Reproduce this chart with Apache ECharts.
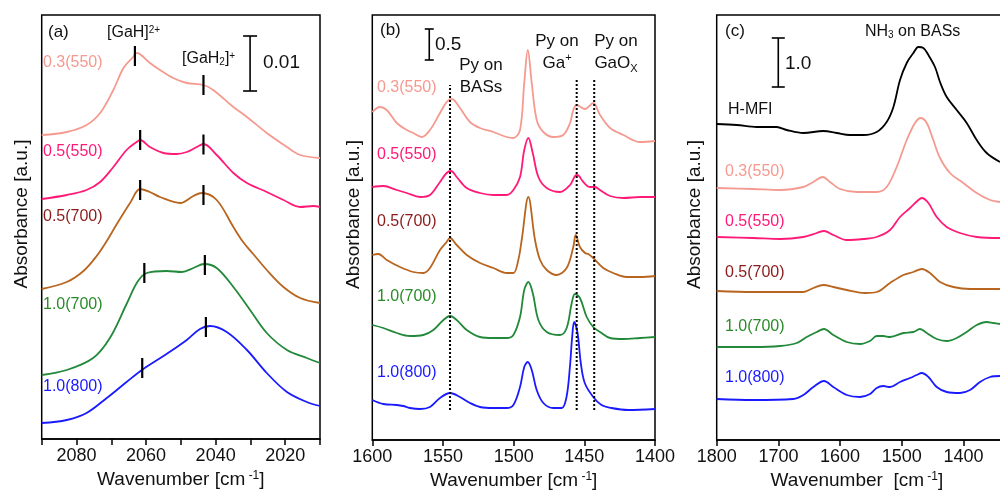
<!DOCTYPE html>
<html>
<head>
<meta charset="utf-8">
<script src="https://cdn.jsdelivr.net/npm/echarts@6/dist/echarts.min.js"></script>
<style>
  html, body { margin: 0; padding: 0; background: #fff; }
  #chart { width: 1000px; height: 493px; }
</style>
</head>
<body>
<div id="chart"></div>
<script>
// sample names and colours (same order in every panel)
const samples = ['0.3(550)', '0.5(550)', '0.5(700)', '1.0(700)', '1.0(800)'];
const lineColors = ['#f59a90', '#ff1a78', '#b8651f', '#23893a', '#1a1aff'];
const labelColors = ['#f59a90', '#ff1a78', '#8b1a1a', '#2a8a2a', '#1a1aff'];

// (a) Ga-H region, stacked absorbance (a.u.)
const a03_550 = [[2090,304],[2082.8,307],[2077.1,314],[2073.2,326],[2069.4,349],[2066.5,371],[2063.7,382],[2062.7,386],[2058.9,376],[2056,369],[2052.2,361],[2048.3,356],[2043.5,354],[2040.7,349],[2034.9,332],[2031,322],[2025.3,306],[2019.5,292],[2015.7,284],[2010,281]];
const a05_550 = [[2090,240],[2082.8,244],[2077.1,249],[2073.2,257],[2069.4,272],[2065.6,289],[2062.7,297],[2061.7,299],[2058.9,292],[2055,286],[2051.2,285],[2048.3,287],[2045.4,292],[2043.5,295],[2039.7,284],[2034.9,266],[2031,256],[2025.3,247],[2020.5,239],[2015.7,232],[2011.9,233],[2010,232]];
const a05_700 = [[2090,150],[2082.8,157],[2078,168],[2074.2,183],[2071.3,198],[2068.4,215],[2064.6,236],[2061.7,250],[2058.9,247],[2056,242],[2050.2,236],[2046.4,243],[2044,246],[2039.7,239],[2034.9,212],[2032.1,197],[2029.2,185],[2025.3,169],[2020.5,152],[2015.7,141],[2010,136]];
const a10_700 = [[2090,64],[2082.8,69],[2075.2,81],[2070.4,101],[2065.6,135],[2062.5,157],[2059.8,166],[2054.1,168],[2049.7,167],[2046.4,171],[2043.3,175],[2039.7,171],[2034.9,152],[2030.1,129],[2025.3,106],[2019.5,89],[2013.8,81],[2010,76]];
const a10_800 = [[2090,16],[2082.8,19],[2077.1,26],[2071.3,41],[2065.6,57],[2060.8,70],[2054.1,85],[2048.3,99],[2044.5,110],[2041.6,113],[2036.8,107],[2031,89],[2025.3,66],[2019.5,47],[2013.8,37],[2010,33]];
// peak markers [wavenumber, level]
const aPeaks = [[2063.2,383],[2043.5,354],[2061.7,299],[2043.5,294.5],[2061.7,249],[2043.5,244],[2060.5,166],[2043.1,174],[2061.1,71],[2042.8,112]];
const aScaleBar = [[2030.1, 348, 403]];   // 0.01

// (b) pyridine
const b03_550 = [[1600,328],[1594.6,333],[1589.8,330],[1582.7,317],[1575.6,310],[1571,307],[1565,303],[1559.2,310],[1552.1,327],[1547.4,338],[1543.8,341],[1538,332],[1530.9,318],[1523.8,312],[1514.4,308],[1504.9,303],[1500.2,302],[1495.5,310],[1492.5,357],[1490,390],[1487.2,357],[1483.7,320],[1479,308],[1471.9,303],[1464.9,305],[1460.1,317],[1457.8,330],[1455.4,335],[1449.5,331],[1443.7,337],[1438.9,325],[1431.8,312],[1422.4,305],[1410.6,298],[1400,299]];
const b05_550 = [[1600,253],[1592.2,254],[1582.7,250],[1575.6,247],[1566.2,243],[1559.2,245],[1552.1,258],[1547.4,267],[1544.3,269],[1540.3,263],[1533.2,252],[1523.8,247],[1514.4,245],[1504.9,245],[1500.2,250],[1495.5,263],[1492.5,290],[1489.6,302],[1486.5,287],[1482.5,263],[1476.6,252],[1467.2,248],[1460.1,255],[1456.6,264],[1454.9,265],[1450.7,258],[1446,253],[1442.4,253],[1438.9,250],[1431.8,244],[1422.4,242],[1410.6,243],[1400,243]];
const b05_700 = [[1600,185],[1595.8,186],[1589.8,180],[1580.4,173],[1571,168],[1563.9,167],[1559.2,172],[1552.1,190],[1547.4,198],[1545,202],[1540.3,195],[1533.2,185],[1523.8,177],[1514.4,172],[1504.9,167],[1500.2,167],[1496.7,180],[1494.3,200],[1489.6,243],[1484.9,200],[1481.3,180],[1476.6,170],[1469.6,165],[1462.5,172],[1457.8,193],[1456.1,205],[1453.1,193],[1449.5,187],[1447.2,186],[1443.7,182],[1436.6,172],[1429.6,167],[1420.1,163],[1410.6,163],[1400,164]];
const b10_700 = [[1600,115],[1592.2,112],[1582.7,107],[1573.4,104],[1563.9,105],[1556.8,110],[1549.7,120],[1545,124],[1540.3,120],[1533.2,110],[1523.8,103],[1514.4,102],[1504.9,102],[1500.2,105],[1495.5,123],[1492.5,150],[1489.6,158],[1486.5,147],[1482.5,120],[1476.6,108],[1467.2,105],[1462.5,112],[1458.9,137],[1456.6,146],[1453.1,142],[1448.3,123],[1443.7,113],[1438.9,108],[1431.8,102],[1422.4,101],[1410.6,102],[1400,103]];
const b10_800 = [[1600,40],[1592.2,36],[1582.7,35],[1578.2,34],[1573.4,32],[1566.2,31],[1559.2,33],[1552.1,42],[1545,47],[1538,43],[1530.9,37],[1523.8,33],[1514.4,32],[1504.9,32],[1500.2,35],[1495.5,53],[1492.5,73],[1490,78],[1487.2,70],[1483.7,50],[1479,37],[1471.9,32],[1466,32],[1462.6,43],[1460.2,73],[1458.6,103],[1457.2,118],[1454.8,107],[1452.5,77],[1449.7,57],[1443.7,43],[1437.9,35],[1430.8,32],[1419,30],[1400,31]];
const bGuides = [1545, 1455.4, 1443];       // dotted band positions
const bGuideTops = [355, 360, 360];
const bGuideBottom = 30;
const bScaleBar = [[1559.7, 380, 411]];   // 0.5

// (c) ammonia
const cHMFI = [[1800,316],[1767.6,315],[1735.2,313],[1702.8,313],[1686.5,310],[1659.5,307],[1627,309],[1605.5,307],[1584,305],[1562.3,305],[1540.7,308],[1524.5,318],[1513.6,333],[1502.9,360],[1492,377],[1481.2,387],[1473.1,393],[1465,392],[1456.9,385],[1446.2,373],[1438.1,358],[1427.2,343],[1411,330],[1394.8,317],[1378.6,300],[1362.4,287],[1340.9,278]];
const c03_550 = [[1800,252],[1740.7,251],[1697.4,250],[1659.6,253],[1643.4,258],[1628.2,263],[1616.4,258],[1600.2,251],[1573.1,248],[1540.7,248],[1524.5,253],[1508.3,273],[1492,300],[1478.6,317],[1469.4,322],[1459.6,317],[1449,300],[1438.1,282],[1421.9,267],[1400.3,257],[1378.6,247],[1357,240],[1340.9,238]];
const c05_550 = [[1800,203],[1740.7,202],[1697.4,201],[1659.6,203],[1637.9,207],[1626.1,209],[1611,205],[1589.3,200],[1562.3,201],[1540.7,203],[1519.1,210],[1502.9,223],[1486.7,232],[1473.1,240],[1467.7,242],[1456.9,237],[1443.4,223],[1427.2,213],[1405.7,207],[1378.6,203],[1340.9,202]];
const c05_700 = [[1800,149],[1740.7,148],[1697.4,148],[1659.6,148],[1643.4,152],[1627,155],[1611,153],[1589.3,150],[1559.6,147],[1540.7,148],[1519.1,157],[1497.5,165],[1481.3,168],[1467.7,171],[1454.3,167],[1438.1,158],[1416.5,153],[1389.4,151],[1340.9,151]];
const c10_700 = [[1800,93],[1740.7,93],[1697.4,94],[1670.3,97],[1654.1,103],[1637.9,108],[1626.1,111],[1611,105],[1589.3,98],[1567.7,96],[1551.5,99],[1540.7,104],[1530,104],[1519.1,103],[1497.5,107],[1481.3,108],[1470.5,111],[1459.6,107],[1443.4,101],[1427.2,99],[1411,102],[1394.8,108],[1378.6,115],[1362.4,118],[1351.7,117],[1340.9,116]];
const c10_800 = [[1800,41],[1740.7,40],[1675.8,41],[1659.5,45],[1643.4,53],[1626.1,59],[1611,53],[1589.3,45],[1567.7,43],[1551.5,46],[1540.7,52],[1530,54],[1519.1,53],[1502.9,58],[1486.7,62],[1475.9,65],[1467.7,67],[1456.9,63],[1443.4,53],[1427.2,48],[1405.7,47],[1389.4,50],[1373.3,58],[1357,63],[1340.9,64]];
const cScaleBar = [[1700.2, 353, 402]];   // 1.0

const FONT = 'Arial, "Liberation Sans", sans-serif';
const chart = echarts.init(document.getElementById('chart'));

function spectrum(data, color, idx) {
  return {
    type: 'line', xAxisIndex: idx, yAxisIndex: idx, data: data,
    showSymbol: false, smooth: 0.35, silent: true, z: 3,
    lineStyle: { color: color, width: 1.8 }
  };
}

function scaleBar(data, idx, cap) {
  return {
    type: 'custom', xAxisIndex: idx, yAxisIndex: idx, data: data, silent: true, z: 4,
    renderItem: function (params, api) {
      const p0 = api.coord([api.value(0), api.value(1)]);
      const p1 = api.coord([api.value(0), api.value(2)]);
      const st = { stroke: '#000', lineWidth: 1.6 };
      return {
        type: 'group', children: [
          { type: 'line', shape: { x1: p0[0], y1: p0[1], x2: p1[0], y2: p1[1] }, style: st },
          { type: 'line', shape: { x1: p0[0] - cap, y1: p0[1], x2: p0[0] + cap, y2: p0[1] }, style: st },
          { type: 'line', shape: { x1: p1[0] - cap, y1: p1[1], x2: p1[0] + cap, y2: p1[1] }, style: st }
        ]
      };
    }
  };
}

function xAxisFor(idx, min, max, step, labelStep, name, pad) {
  return {
    type: 'value', gridIndex: idx, inverse: true, min: min, max: max, interval: step,
    splitLine: { show: false },
    axisLine: { show: true, onZero: false, lineStyle: { color: '#000', width: 1.5 } },
    axisTick: { show: true, inside: false, length: 6, lineStyle: { color: '#000', width: 1.5 } },
    axisLabel: {
      margin: 8, color: '#111', fontSize: 18, fontFamily: FONT,
      showMinLabel: true, showMaxLabel: true, hideOverlap: false,
      formatter: v => (v % labelStep === 0 ? String(v) : '')
    },
    name: name, nameLocation: 'middle', nameGap: 30,
    nameTextStyle: {
      color: '#111', fontSize: 19, fontFamily: FONT, padding: pad || 0,
      rich: { sup: { fontSize: 12, verticalAlign: 'top', fontFamily: FONT, color: '#111' } }
    }
  };
}

function yAxisFor(idx, max, gap) {
  return {
    type: 'value', gridIndex: idx, min: 0, max: max,
    axisLine: { show: false }, axisTick: { show: false },
    axisLabel: { show: false }, splitLine: { show: false },
    name: 'Absorbance [a.u.]', nameLocation: 'middle', nameGap: gap, nameRotate: 90,
    nameTextStyle: { color: '#111', fontSize: 19, fontFamily: FONT, padding: [0, 0, 0, 26] }
  };
}

function txt(x, y, text, color, size, align, extra) {
  return {
    type: 'text', x: x, y: y, silent: true, z: 10,
    style: Object.assign({
      text: text, fill: color, fontSize: size, fontFamily: FONT,
      align: align || 'left', verticalAlign: 'middle',
      rich: {
        sup: { fontSize: Math.round(size * 0.65), verticalAlign: 'top', fill: color, fontFamily: FONT },
        sub: { fontSize: Math.round(size * 0.65), verticalAlign: 'bottom', fill: color, fontFamily: FONT }
      }
    }, extra || {})
  };
}

// sample label positions per panel (left x, centre y for each sample)
const labelPos = [
  { x: 43, ys: [63, 152, 217, 305, 387] },
  { x: 377, ys: [88, 155, 222, 297, 373] },
  { x: 725, ys: [172, 222, 273, 327, 378] }
];
const graphics = [];
labelPos.forEach(p => {
  samples.forEach((s, i) => graphics.push(txt(p.x, p.ys[i], s, labelColors[i], 16)));
});
graphics.push(
  txt(48, 32, '(a)', '#111', 17),
  txt(107, 33, '[GaH]{sup|2+}', '#111', 16),
  txt(182, 59, '[GaH{sub|2}]{sup|+}', '#111', 16),
  txt(263, 63, '0.01', '#111', 19),
  txt(380, 30, '(b)', '#111', 17),
  txt(435, 45, '0.5', '#111', 19),
  txt(481, 76, 'Py on\nBASs', '#111', 17, 'center', { lineHeight: 22 }),
  txt(557, 52, 'Py on\nGa{sup|+}', '#111', 17, 'center', { lineHeight: 22 }),
  txt(616, 52, 'Py on\nGaO{sub|X}', '#111', 17, 'center', { lineHeight: 22 }),
  txt(725, 31, '(c)', '#111', 17),
  txt(785, 64, '1.0', '#111', 19),
  txt(865, 32, 'NH{sub|3} on BASs', '#111', 16),
  txt(728, 110, 'H-MFI', '#111', 16)
);

const series = [];
[a03_550, a05_550, a05_700, a10_700, a10_800].forEach((d, i) => series.push(spectrum(d, lineColors[i], 0)));
[b03_550, b05_550, b05_700, b10_700, b10_800].forEach((d, i) => series.push(spectrum(d, lineColors[i], 1)));
series.push(spectrum(cHMFI, '#000', 2));
[c03_550, c05_550, c05_700, c10_700, c10_800].forEach((d, i) => series.push(spectrum(d, lineColors[i], 2)));

// peak markers in (a)
series.push({
  type: 'custom', xAxisIndex: 0, yAxisIndex: 0, data: aPeaks, silent: true, z: 5,
  renderItem: function (params, api) {
    const p0 = api.coord([api.value(0), api.value(1) - 10]);
    const p1 = api.coord([api.value(0), api.value(1) + 10]);
    return { type: 'line', shape: { x1: p0[0], y1: p0[1], x2: p1[0], y2: p1[1] }, style: { stroke: '#000', lineWidth: 2.2 } };
  }
});
// dotted guides in (b)
bGuides.forEach((g, i) => series.push({
  type: 'line', xAxisIndex: 1, yAxisIndex: 1, showSymbol: false, silent: true, z: 4,
  data: [[g, bGuideBottom], [g, bGuideTops[i]]],
  lineStyle: { color: '#000', width: 2, type: [2, 2] }
}));
series.push(scaleBar(aScaleBar, 0, 7), scaleBar(bScaleBar, 1, 4.5), scaleBar(cScaleBar, 2, 6.5));

const gridStyle = { show: true, borderColor: '#000', borderWidth: 1.5, backgroundColor: 'transparent', outerBoundsMode: 'none', containLabel: false };
chart.setOption({
  animation: false,
  grid: [
    Object.assign({ left: 41.7, top: 15, width: 278.3, height: 424 }, gridStyle),
    Object.assign({ left: 372.3, top: 15, width: 282.7, height: 425 }, gridStyle),
    Object.assign({ left: 716.7, top: 15, width: 308.5, height: 425 }, gridStyle)
  ],
  xAxis: [
    xAxisFor(0, 2010, 2090, 10, 20, 'Wavenumber [cm{sup| -1}]'),
    xAxisFor(1, 1400, 1600, 50, 50, 'Wavenumber [cm{sup| -1}]'),
    xAxisFor(2, 1300, 1800, 100, 100, 'Wavenumber  [cm{sup| -1}]', [0, 28, 0, 0])
  ],
  yAxis: [yAxisFor(0, 424, 10), yAxisFor(1, 425, 9), yAxisFor(2, 425, 12)],
  series: series,
  graphic: graphics
});
window.addEventListener('resize', () => chart.resize());
</script>
</body>
</html>
